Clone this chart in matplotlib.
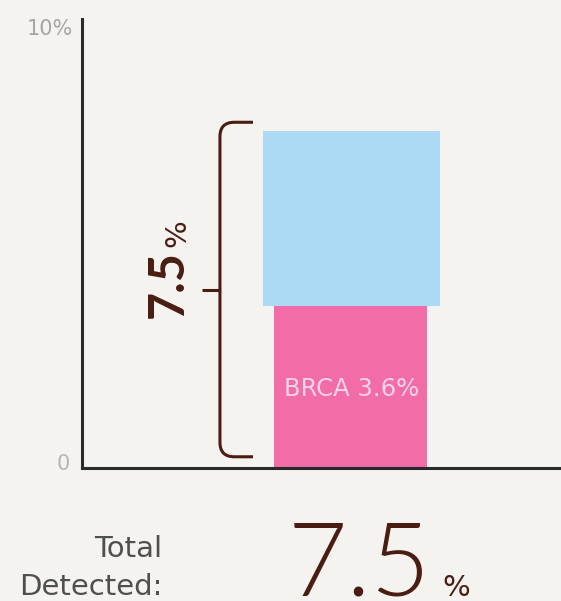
import matplotlib
matplotlib.use("Agg")
import matplotlib.pyplot as plt
from matplotlib.path import Path
from matplotlib.patches import PathPatch
import matplotlib.transforms as mtransforms

# ---- data ----
categories = ["Total"]
brca_values = [3.6]
other_values = [3.9]
total_value = 7.5
y_ticks = [0, 10]
y_tick_labels = ["0", "10%"]
bar_label = "BRCA 3.6%"

BROWN = "#4a1c12"
PINK = "#f26ca7"
BLUE = "#acd9f3"
BG = "#f5f3f0"

fig = plt.figure(figsize=(5.61, 6.01), dpi=100, facecolor=BG)
ax = fig.add_axes([82/561, (601-468)/601, (561-82)/561, (468-19)/601])
ax.set_facecolor("none")
ax.set_xlim(0, 10)
ax.set_ylim(y_ticks[0], y_ticks[-1])

xc = 5.6
ax.bar([xc], brca_values, width=3.2, color=PINK, zorder=2)
ax.bar([xc + 0.02], other_values, bottom=brca_values, width=3.7, color=BLUE, zorder=1)

ax.text(xc + 0.02, brca_values[0] / 2 - 0.05, bar_label, ha="center", va="center",
        color="#f7d3e6", fontsize=17.5, family="DejaVu Sans", zorder=3)

# spines
for s in ["top", "right"]:
    ax.spines[s].set_visible(False)
for s in ["left", "bottom"]:
    ax.spines[s].set_color("#2a2a2a")
    ax.spines[s].set_linewidth(2.2)
ax.set_xticks([])
ax.set_yticks([])

# y tick labels
tr = mtransforms.blended_transform_factory(ax.transAxes, ax.transData)
ax.text(-0.025, y_ticks[0] + 0.1, y_tick_labels[0], transform=tr, ha="right", va="center",
        color="#b5b5b5", fontsize=15, family="DejaVu Sans")
ax.text(-0.018, y_ticks[1], y_tick_labels[1], transform=tr, ha="right", va="top",
        color="#a5a5a5", fontsize=15, family="DejaVu Sans")

# brace
top = total_value + 0.2
bot = 0.25
xv = 2.88
xr = 3.57
rx, ry = 0.3, 0.32
verts = [(xr, top), (xv + rx, top), (xv, top), (xv, top - ry),
         (xv, bot + ry), (xv, bot), (xv + rx, bot), (xr, bot)]
codes = [Path.MOVETO, Path.LINETO, Path.CURVE3, Path.CURVE3,
         Path.LINETO, Path.CURVE3, Path.CURVE3, Path.LINETO]
ax.add_patch(PathPatch(Path(verts, codes), fill=False, edgecolor=BROWN, lw=2.2,
                       clip_on=False, capstyle="butt"))
mid = (top + bot) / 2
ax.plot([2.5, xv], [mid, mid], color=BROWN, lw=2.2, clip_on=False, solid_capstyle="butt")

ax.annotate(f"{total_value:g}", xy=(1.8, mid), xytext=(0, 6), textcoords="offset pixels",
            ha="center", va="center", rotation=90,
            color=BROWN, fontsize=35, fontweight="bold", family="Lato")
ax.annotate("%", xy=(1.8, mid), xytext=(9, 56), textcoords="offset pixels",
            ha="center", va="center", rotation=90, color=BROWN, fontsize=21,
            family="DejaVu Sans")

# bottom summary
fig.text(162/561, (601-557)/601, "Total", ha="right", va="baseline",
         color="#4f4f4f", fontsize=21, family="DejaVu Sans")
fig.text(162/561, (601-595)/601, "Detected:", ha="right", va="baseline",
         color="#4f4f4f", fontsize=21, family="DejaVu Sans")
fig.text(359/561, (601-596)/601, f"{total_value:g}", ha="center", va="baseline",
         color=BROWN, fontsize=74, fontweight=300, family="Lato")
fig.text(456/561, (601-596)/601, "%", ha="center", va="baseline",
         color=BROWN, fontsize=21, fontweight="normal", family="DejaVu Sans")

fig.savefig("out.png", dpi=100, facecolor=BG)
